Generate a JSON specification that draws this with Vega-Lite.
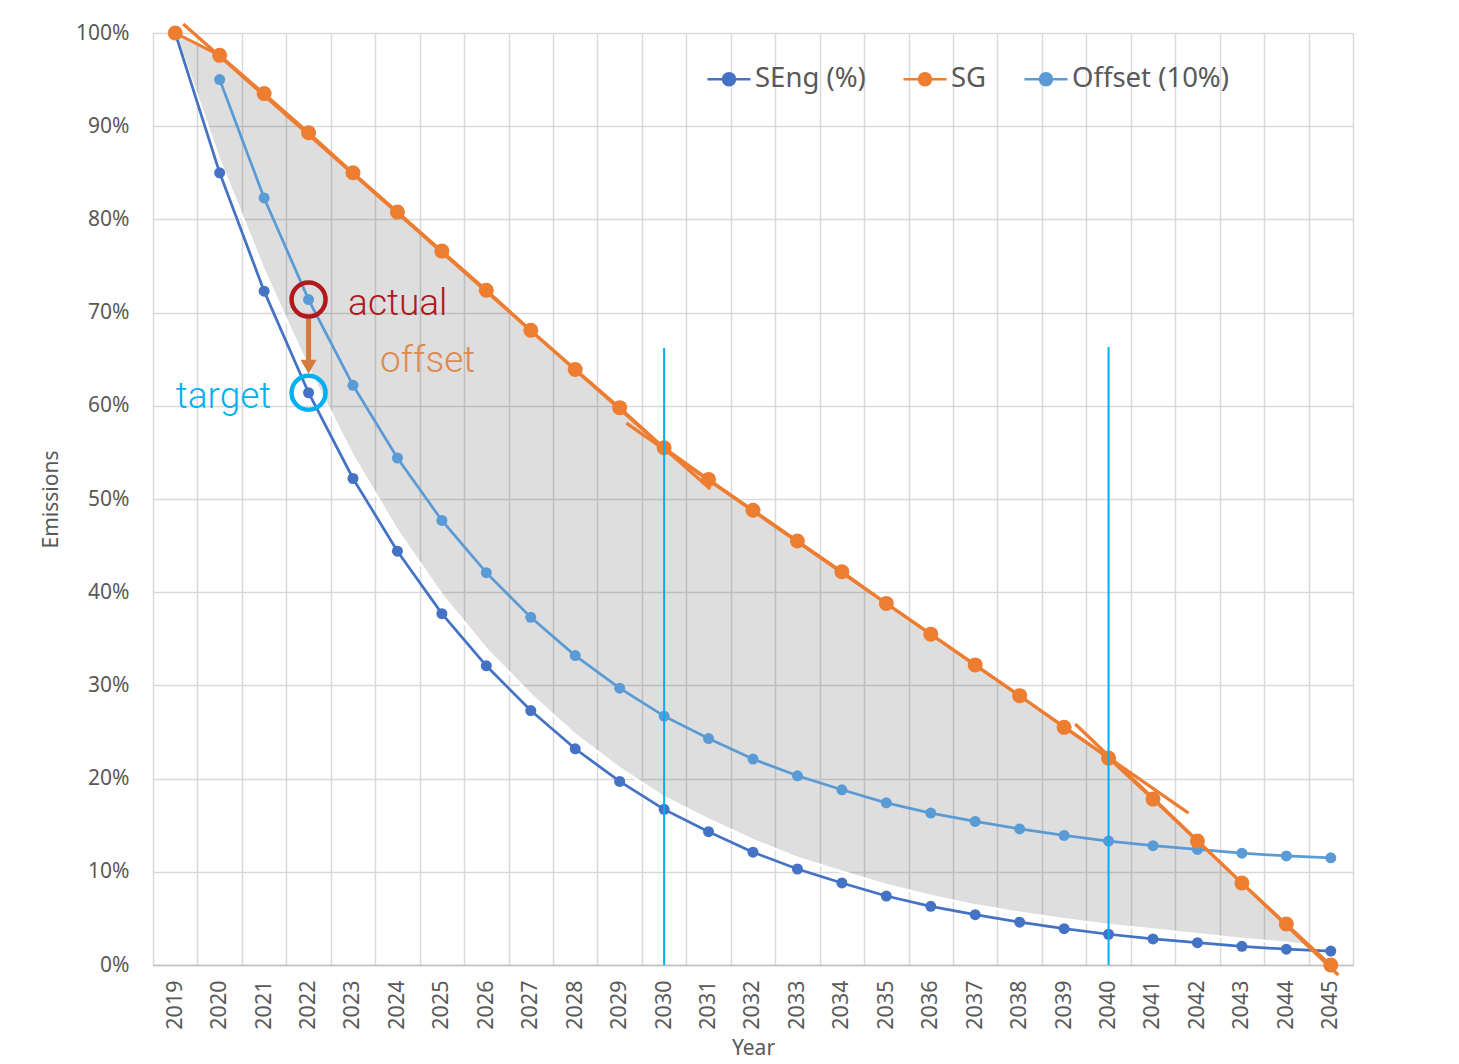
{
  "$schema": "https://vega.github.io/schema/vega-lite/v6.json",
  "autosize": {"type": "none"},
  "width": 1200,
  "height": 932,
  "padding": {"left": 153, "top": 33, "right": 106, "bottom": 99},
  "background": "white",
  "config": {
    "font": "Noto Sans",
    "view": {"stroke": null},
    "axis": {"labelColor": "#595959", "titleColor": "#595959", "labelFont": "Noto Sans", "titleFont": "Noto Sans", "titleFontWeight": "normal"}
  },
  "datasets": {
    "series": [
      {"year": 2019, "series": "SEng (%)", "value": 100},
      {"year": 2020, "series": "SEng (%)", "value": 85.0},
      {"year": 2021, "series": "SEng (%)", "value": 72.3},
      {"year": 2022, "series": "SEng (%)", "value": 61.4},
      {"year": 2023, "series": "SEng (%)", "value": 52.2},
      {"year": 2024, "series": "SEng (%)", "value": 44.4},
      {"year": 2025, "series": "SEng (%)", "value": 37.7},
      {"year": 2026, "series": "SEng (%)", "value": 32.1},
      {"year": 2027, "series": "SEng (%)", "value": 27.3},
      {"year": 2028, "series": "SEng (%)", "value": 23.2},
      {"year": 2029, "series": "SEng (%)", "value": 19.7},
      {"year": 2030, "series": "SEng (%)", "value": 16.7},
      {"year": 2031, "series": "SEng (%)", "value": 14.3},
      {"year": 2032, "series": "SEng (%)", "value": 12.1},
      {"year": 2033, "series": "SEng (%)", "value": 10.3},
      {"year": 2034, "series": "SEng (%)", "value": 8.8},
      {"year": 2035, "series": "SEng (%)", "value": 7.4},
      {"year": 2036, "series": "SEng (%)", "value": 6.3},
      {"year": 2037, "series": "SEng (%)", "value": 5.4},
      {"year": 2038, "series": "SEng (%)", "value": 4.6},
      {"year": 2039, "series": "SEng (%)", "value": 3.9},
      {"year": 2040, "series": "SEng (%)", "value": 3.3},
      {"year": 2041, "series": "SEng (%)", "value": 2.8},
      {"year": 2042, "series": "SEng (%)", "value": 2.4},
      {"year": 2043, "series": "SEng (%)", "value": 2.0},
      {"year": 2044, "series": "SEng (%)", "value": 1.7},
      {"year": 2045, "series": "SEng (%)", "value": 1.5},
      {"year": 2019, "series": "SG", "value": 100},
      {"year": 2020, "series": "SG", "value": 97.6},
      {"year": 2021, "series": "SG", "value": 93.5},
      {"year": 2022, "series": "SG", "value": 89.3},
      {"year": 2023, "series": "SG", "value": 85.0},
      {"year": 2024, "series": "SG", "value": 80.8},
      {"year": 2025, "series": "SG", "value": 76.6},
      {"year": 2026, "series": "SG", "value": 72.4},
      {"year": 2027, "series": "SG", "value": 68.1},
      {"year": 2028, "series": "SG", "value": 63.9},
      {"year": 2029, "series": "SG", "value": 59.8},
      {"year": 2030, "series": "SG", "value": 55.5},
      {"year": 2031, "series": "SG", "value": 52.1},
      {"year": 2032, "series": "SG", "value": 48.8},
      {"year": 2033, "series": "SG", "value": 45.5},
      {"year": 2034, "series": "SG", "value": 42.2},
      {"year": 2035, "series": "SG", "value": 38.8},
      {"year": 2036, "series": "SG", "value": 35.5},
      {"year": 2037, "series": "SG", "value": 32.2},
      {"year": 2038, "series": "SG", "value": 28.9},
      {"year": 2039, "series": "SG", "value": 25.5},
      {"year": 2040, "series": "SG", "value": 22.2},
      {"year": 2041, "series": "SG", "value": 17.8},
      {"year": 2042, "series": "SG", "value": 13.3},
      {"year": 2043, "series": "SG", "value": 8.8},
      {"year": 2044, "series": "SG", "value": 4.4},
      {"year": 2045, "series": "SG", "value": 0},
      {"year": 2020, "series": "Offset (10%)", "value": 95.0},
      {"year": 2021, "series": "Offset (10%)", "value": 82.3},
      {"year": 2022, "series": "Offset (10%)", "value": 71.4},
      {"year": 2023, "series": "Offset (10%)", "value": 62.2},
      {"year": 2024, "series": "Offset (10%)", "value": 54.4},
      {"year": 2025, "series": "Offset (10%)", "value": 47.7},
      {"year": 2026, "series": "Offset (10%)", "value": 42.1},
      {"year": 2027, "series": "Offset (10%)", "value": 37.3},
      {"year": 2028, "series": "Offset (10%)", "value": 33.2},
      {"year": 2029, "series": "Offset (10%)", "value": 29.7},
      {"year": 2030, "series": "Offset (10%)", "value": 26.7},
      {"year": 2031, "series": "Offset (10%)", "value": 24.3},
      {"year": 2032, "series": "Offset (10%)", "value": 22.1},
      {"year": 2033, "series": "Offset (10%)", "value": 20.3},
      {"year": 2034, "series": "Offset (10%)", "value": 18.8},
      {"year": 2035, "series": "Offset (10%)", "value": 17.4},
      {"year": 2036, "series": "Offset (10%)", "value": 16.3},
      {"year": 2037, "series": "Offset (10%)", "value": 15.4},
      {"year": 2038, "series": "Offset (10%)", "value": 14.6},
      {"year": 2039, "series": "Offset (10%)", "value": 13.9},
      {"year": 2040, "series": "Offset (10%)", "value": 13.3},
      {"year": 2041, "series": "Offset (10%)", "value": 12.8},
      {"year": 2042, "series": "Offset (10%)", "value": 12.4},
      {"year": 2043, "series": "Offset (10%)", "value": 12.0},
      {"year": 2044, "series": "Offset (10%)", "value": 11.7},
      {"year": 2045, "series": "Offset (10%)", "value": 11.5}
    ],
    "shade": [
      {"year": 2019, "lo": 100, "hi": 100},
      {"year": 2020, "lo": 86.3, "hi": 97.6},
      {"year": 2021, "lo": 74.5, "hi": 93.5},
      {"year": 2022, "lo": 64, "hi": 89.3},
      {"year": 2023, "lo": 54.6, "hi": 85.0},
      {"year": 2024, "lo": 46.6, "hi": 80.8},
      {"year": 2025, "lo": 39.7, "hi": 76.6},
      {"year": 2026, "lo": 33.9, "hi": 72.4},
      {"year": 2027, "lo": 29, "hi": 68.1},
      {"year": 2028, "lo": 24.7, "hi": 63.9},
      {"year": 2029, "lo": 21.1, "hi": 59.8},
      {"year": 2030, "lo": 18, "hi": 55.5},
      {"year": 2031, "lo": 15.6, "hi": 52.1},
      {"year": 2032, "lo": 13.4, "hi": 48.8},
      {"year": 2033, "lo": 11.5, "hi": 45.5},
      {"year": 2034, "lo": 10, "hi": 42.2},
      {"year": 2035, "lo": 8.6, "hi": 38.8},
      {"year": 2036, "lo": 7.4, "hi": 35.5},
      {"year": 2037, "lo": 6.4, "hi": 32.2},
      {"year": 2038, "lo": 5.6, "hi": 28.9},
      {"year": 2039, "lo": 4.9, "hi": 25.5},
      {"year": 2040, "lo": 4.3, "hi": 22.2},
      {"year": 2041, "lo": 3.8, "hi": 17.8},
      {"year": 2042, "lo": 3.3, "hi": 13.3},
      {"year": 2043, "lo": 2.8, "hi": 8.8},
      {"year": 2044, "lo": 2.4, "hi": 4.4},
      {"year": 2044.5, "lo": 2.1, "hi": 2.2}
    ],
    "segments": [
      {"year": 2019.18, "value": 100.96, "year2": 2031.04, "value2": 51.07},
      {"year": 2029.15, "value": 58.15, "year2": 2041.8, "value2": 16.3},
      {"year": 2039.25, "value": 25.86, "year2": 2045.17, "value2": -1.07}
    ],
    "vlines": [
      {"year": 2030, "top": 66.2, "bottom": 0},
      {"year": 2040, "top": 66.3, "bottom": 0}
    ],
    "circles": [
      {"name": "actual", "year": 2022, "value": 71.4},
      {"name": "target", "year": 2022, "value": 61.4}
    ],
    "arrow": [
      {"year": 2022, "from": 69.4, "to": 64.9, "head": 64.2}
    ],
    "labels": [
      {"name": "actual", "year": 2022.89, "value": 69.7},
      {"name": "offset", "year": 2023.61, "value": 63.6},
      {"name": "target", "year": 2021.16, "value": 59.8}
    ]
  },
  "encoding": {
    "x": {
      "field": "year",
      "type": "quantitative",
      "scale": {"domain": [2018.5, 2045.5], "nice": false, "zero": false},
      "axis": {
        "title": "Year",
        "titleFontSize": 21,
        "titlePadding": 8,
        "values": [2018.5, 2019.5, 2020.5, 2021.5, 2022.5, 2023.5, 2024.5, 2025.5, 2026.5, 2027.5, 2028.5, 2029.5, 2030.5, 2031.5, 2032.5, 2033.5, 2034.5, 2035.5, 2036.5, 2037.5, 2038.5, 2039.5, 2040.5, 2041.5, 2042.5, 2043.5, 2044.5, 2045.5],
        "labelExpr": "datum.value > 2045 ? '' : '' + (datum.value + 0.5)",
        "labelAngle": 270,
        "labelOffset": 22.2,
        "labelPadding": 15,
        "labelFontSize": 21.5,
        "labelFlush": false,
        "labelOverlap": false,
        "labelBound": false,
        "ticks": false,
        "grid": true,
        "gridColor": "#d9d9d9",
        "gridWidth": 1.5,
        "domain": true,
        "domainColor": "#bfbfbf",
        "domainWidth": 1.5
      }
    },
    "y": {
      "field": "value",
      "type": "quantitative",
      "scale": {"domain": [0, 100], "nice": false, "zero": true},
      "axis": {
        "title": "Emissions",
        "titleFontSize": 21,
        "titlePadding": 14,
        "values": [0, 10, 20, 30, 40, 50, 60, 70, 80, 90, 100],
        "labelExpr": "datum.value + '%'",
        "labelFontSize": 21,
        "labelPadding": 24,
        "labelFlush": false,
        "ticks": false,
        "domain": false,
        "grid": true,
        "gridColor": "#d9d9d9",
        "gridWidth": 1.5
      }
    }
  },
  "layer": [
    {
      "data": {"name": "shade"},
      "mark": {"type": "area", "fill": "#000000", "fillOpacity": 0.13, "stroke": "white", "strokeWidth": 2.5},
      "encoding": {"y": {"field": "hi", "type": "quantitative"}, "y2": {"field": "lo"}}
    },
    {
      "data": {"name": "series"},
      "transform": [{"filter": "datum.series === 'SEng (%)'"}],
      "mark": {"type": "line", "strokeWidth": 2.75},
      "encoding": {
        "color": {
          "field": "series",
          "type": "nominal",
          "scale": {"domain": ["SEng (%)", "SG", "Offset (10%)"], "range": ["#4472C4", "#ED7D31", "#5B9BD5"]},
          "legend": {
            "orient": "none",
            "legendX": 553,
            "legendY": 23,
            "direction": "horizontal",
            "title": null,
            "padding": 0,
            "symbolType": "M-1,0L1,0M-0.28,0A0.28,0.28,0,1,1,0.28,0A0.28,0.28,0,1,1,-0.28,0Z",
            "symbolSize": 1849,
            "symbolStrokeWidth": 2.5,
            "labelFontSize": 27.5,
            "labelColor": "#595959",
            "labelFont": "Noto Sans",
            "labelOffset": 3,
            "columnPadding": 32,
            "encode": {
              "symbols": {
                "update": {
                  "fill": {"scale": "color", "field": "value"},
                  "stroke": {"scale": "color", "field": "value"},
                  "strokeWidth": {"value": 2.5},
                  "opacity": {"value": 1}
                }
              }
            }
          }
        }
      }
    },
    {
      "data": {"name": "series"},
      "transform": [{"filter": "datum.series === 'SEng (%)'"}],
      "mark": {"type": "point", "filled": true, "opacity": 1, "size": 121},
      "encoding": {"color": {"field": "series", "type": "nominal"}}
    },
    {
      "data": {"name": "series"},
      "transform": [{"filter": "datum.series === 'Offset (10%)'"}],
      "mark": {"type": "line", "strokeWidth": 2.75},
      "encoding": {"color": {"field": "series", "type": "nominal"}}
    },
    {
      "data": {"name": "series"},
      "transform": [{"filter": "datum.series === 'Offset (10%)'"}],
      "mark": {"type": "point", "filled": true, "opacity": 1, "size": 121},
      "encoding": {"color": {"field": "series", "type": "nominal"}}
    },
    {
      "data": {"name": "series"},
      "transform": [{"filter": "datum.series === 'SG'"}],
      "mark": {"type": "line", "strokeWidth": 3},
      "encoding": {"color": {"field": "series", "type": "nominal"}}
    },
    {
      "data": {"name": "segments"},
      "mark": {"type": "rule", "color": "#ED7D31", "strokeWidth": 3.25},
      "encoding": {"x2": {"field": "year2"}, "y2": {"field": "value2"}}
    },
    {
      "data": {"name": "series"},
      "transform": [{"filter": "datum.series === 'SG'"}],
      "mark": {"type": "point", "filled": true, "opacity": 1, "size": 225},
      "encoding": {"color": {"field": "series", "type": "nominal"}}
    },
    {
      "data": {"name": "vlines"},
      "mark": {"type": "rule", "color": "#00B0F0", "strokeWidth": 2},
      "encoding": {"y": {"field": "top", "type": "quantitative"}, "y2": {"field": "bottom"}}
    },
    {
      "data": {"name": "arrow"},
      "mark": {"type": "rule", "color": "#D57B3D", "strokeWidth": 5},
      "encoding": {"y": {"field": "from", "type": "quantitative"}, "y2": {"field": "to"}}
    },
    {
      "data": {"name": "arrow"},
      "mark": {"type": "point", "shape": "triangle-down", "filled": true, "color": "#D57B3D", "opacity": 1, "size": 260},
      "encoding": {"y": {"field": "head", "type": "quantitative"}}
    },
    {
      "data": {"name": "circles"},
      "transform": [{"filter": "datum.name === 'actual'"}],
      "mark": {"type": "point", "filled": false, "stroke": "#B0191E", "strokeWidth": 4.5, "opacity": 1, "size": 1156}
    },
    {
      "data": {"name": "circles"},
      "transform": [{"filter": "datum.name === 'target'"}],
      "mark": {"type": "point", "filled": false, "stroke": "#00B0F0", "strokeWidth": 4.5, "opacity": 1, "size": 1156}
    },
    {
      "data": {"name": "labels"},
      "transform": [{"filter": "datum.name === 'actual'"}],
      "mark": {"type": "text", "align": "left", "baseline": "alphabetic", "font": "Roboto", "fontWeight": 300, "fontSize": 37, "color": "#B0191E"},
      "encoding": {"text": {"field": "name"}}
    },
    {
      "data": {"name": "labels"},
      "transform": [{"filter": "datum.name === 'offset'"}],
      "mark": {"type": "text", "align": "left", "baseline": "alphabetic", "font": "Roboto", "fontWeight": 300, "fontSize": 37, "color": "#DD8A4F"},
      "encoding": {"text": {"field": "name"}}
    },
    {
      "data": {"name": "labels"},
      "transform": [{"filter": "datum.name === 'target'"}],
      "mark": {"type": "text", "align": "right", "baseline": "alphabetic", "font": "Roboto", "fontWeight": 300, "fontSize": 37, "color": "#00B0F0"},
      "encoding": {"text": {"field": "name"}}
    }
  ]
}
